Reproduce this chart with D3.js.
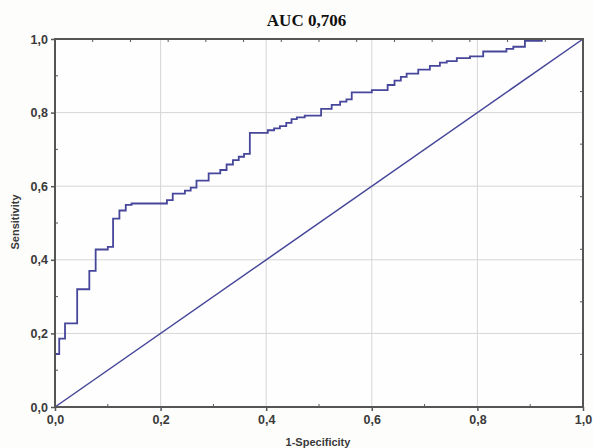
<!DOCTYPE html>
<html><head><meta charset="utf-8">
<script src="https://cdn.jsdelivr.net/npm/d3@7/dist/d3.min.js"></script>
<style>body{margin:0;background:#fdfdfb;} svg{display:block;}</style>
</head><body><svg id="c" width="593" height="448"></svg>
<script>
const title = "AUC 0,706";
const xLabel = "1-Specificity";
const yLabel = "Sensitivity";
const tickValues = [0, 0.2, 0.4, 0.6, 0.8, 1.0];
// ROC step points: [1-specificity, sensitivity]
const fpr = [0, 0, 0.008, 0.019, 0.042, 0.065, 0.077, 0.100, 0.110, 0.122, 0.134, 0.145,
  0.212, 0.223, 0.246, 0.257, 0.268, 0.291, 0.313, 0.325, 0.337, 0.348, 0.358, 0.369,
  0.403, 0.415, 0.426, 0.438, 0.448, 0.458, 0.473, 0.504, 0.524, 0.540, 0.552, 0.562,
  0.600, 0.630, 0.643, 0.655, 0.666, 0.688, 0.710, 0.729, 0.742, 0.761, 0.786, 0.811,
  0.855, 0.868, 0.890, 0.922, 1.0];
const tpr = [0, 0.144, 0.186, 0.227, 0.320, 0.370, 0.428, 0.435, 0.512, 0.534, 0.549, 0.553,
  0.562, 0.580, 0.588, 0.596, 0.615, 0.635, 0.644, 0.659, 0.671, 0.680, 0.688, 0.745,
  0.752, 0.757, 0.763, 0.772, 0.782, 0.787, 0.792, 0.810, 0.821, 0.830, 0.836, 0.855,
  0.861, 0.875, 0.887, 0.897, 0.906, 0.917, 0.927, 0.936, 0.940, 0.948, 0.953, 0.966,
  0.973, 0.979, 0.995, 1.0, 1.0];
const diagonal = [[0, 0], [1, 1]];

const svg = d3.select("#c");
const L = 55, R = 583, T = 39, B = 407;
const x = d3.scaleLinear().domain([0, 1]).range([L, R]);
const y = d3.scaleLinear().domain([0, 1]).range([B, T]);
const lineColor = "#46469a";
const font = "'Liberation Sans', Arial, sans-serif";

svg.append("rect").attr("x", L).attr("y", T).attr("width", R - L).attr("height", B - T).attr("fill", "#fefefe");

// grid
const g = svg.append("g");
tickValues.slice(1, -1).forEach(v => {
  g.append("line").attr("x1", x(v)).attr("x2", x(v)).attr("y1", T).attr("y2", B).attr("stroke", "#d6d6d6").attr("stroke-width", 1);
  g.append("line").attr("y1", y(v)).attr("y2", y(v)).attr("x1", L).attr("x2", R).attr("stroke", "#d6d6d6").attr("stroke-width", 1);
});

// diagonal
svg.append("path").datum(diagonal)
  .attr("d", d3.line().x(d => x(d[0])).y(d => y(d[1])))
  .attr("fill", "none").attr("stroke", lineColor).attr("stroke-width", 1.5);

// ROC curve: horizontal to the new FPR, then vertical to the new sensitivity
const pts = fpr.map((f, i) => [f, tpr[i]]);
svg.append("path").datum(pts)
  .attr("d", d3.line().x(d => x(d[0])).y(d => y(d[1])).curve(d3.curveStepAfter))
  .attr("fill", "none").attr("stroke", lineColor).attr("stroke-width", 1.8);

// axes
const fmt = d => d3.format(".1f")(d).replace(".", ",");
const ax = svg.append("g").attr("transform", `translate(0,${B})`)
  .call(d3.axisBottom(x).tickValues(tickValues).tickFormat(fmt).tickSize(4).tickPadding(4));
const ay = svg.append("g").attr("transform", `translate(${L},0)`)
  .call(d3.axisLeft(y).tickValues(tickValues).tickFormat(fmt).tickSize(4).tickPadding(3));
[ax, ay].forEach(a => {
  a.select(".domain").remove();
  a.selectAll("line").attr("stroke", "#555").attr("stroke-width", 1.5);
  a.selectAll("text").attr("font-family", font).attr("font-size", 12.5).attr("font-weight", "bold").attr("fill", "#3a3a3a");
});

// minor inward ticks
const minor = d3.range(0.1, 1, 0.2);
minor.forEach(v => {
  svg.append("line").attr("x1", x(v)).attr("x2", x(v)).attr("y1", B).attr("y2", B - 3).attr("stroke", "#555");
  svg.append("line").attr("y1", y(v)).attr("y2", y(v)).attr("x1", L).attr("x2", L + 3).attr("stroke", "#555");
});
d3.range(1, 14).forEach(i => {
  const v = i / 14;
  svg.append("line").attr("x1", x(v)).attr("x2", x(v)).attr("y1", T).attr("y2", T + 3).attr("stroke", "#555");
});
d3.range(1, 7).forEach(i => {
  const v = i / 7;
  svg.append("line").attr("y1", y(v)).attr("y2", y(v)).attr("x1", R).attr("x2", R - 3).attr("stroke", "#555");
});

// frame
svg.append("rect").attr("x", L).attr("y", T).attr("width", R - L).attr("height", B - T)
  .attr("fill", "none").attr("stroke", "#555").attr("stroke-width", 2);

// titles
svg.append("text").attr("x", 306.5).attr("y", 26).attr("text-anchor", "middle")
  .attr("font-family", "'Liberation Serif', 'Times New Roman', serif").attr("font-weight", "bold")
  .attr("font-size", 17).attr("fill", "#111").text(title);
svg.append("text").attr("x", 318).attr("y", 446).attr("text-anchor", "middle")
  .attr("font-family", font).attr("font-size", 11).attr("font-weight", "bold").attr("fill", "#3a3a3a").text(xLabel);
svg.append("text").attr("transform", "translate(19,222) rotate(-90)").attr("text-anchor", "middle")
  .attr("font-family", font).attr("font-size", 11).attr("font-weight", "bold").attr("fill", "#3a3a3a").text(yLabel);
</script></body></html>
